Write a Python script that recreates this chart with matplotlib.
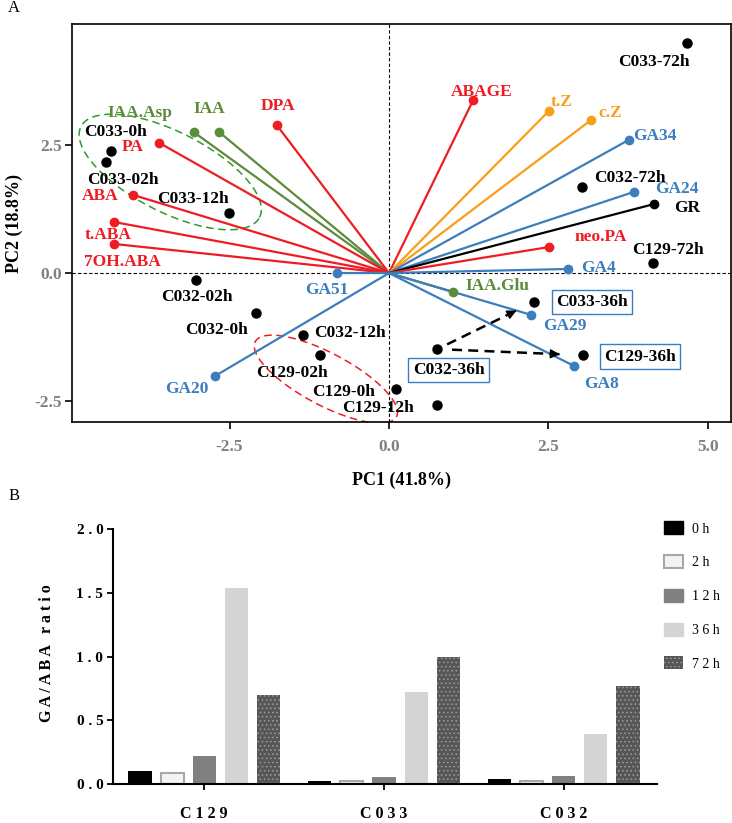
import numpy as np
import matplotlib.pyplot as plt
from matplotlib.patches import Patch

plt.rcParams.update({'font.family': ['Liberation Serif', 'DejaVu Serif'], 'font.weight': 'bold'})

# ---- panel A: PCA biplot ----
load_names = ['IAA.Asp', 'IAA', 'DPA', 'PA', 'ABA', 't.ABA', '7OH.ABA', 'GA51', 'GA20',
              'ABAGE', 't.Z', 'c.Z', 'GA34', 'GA24', 'GR', 'neo.PA', 'GA4', 'IAA.Glu', 'GA29', 'GA8']
load_x = [-3.06, -2.66, -1.76, -3.60, -4.01, -4.31, -4.31, -0.82, -2.73,
          1.32, 2.51, 3.17, 3.76, 3.84, 4.15, 2.51, 2.81, 1.00, 2.23, 2.90]
load_y = [2.76, 2.76, 2.90, 2.55, 1.53, 1.00, 0.57, 0.00, -2.02,
          3.39, 3.18, 3.00, 2.61, 1.59, 1.35, 0.51, 0.08, -0.37, -0.82, -1.82]
load_group = ['auxin', 'auxin', 'aba', 'aba', 'aba', 'aba', 'aba', 'ga', 'ga',
              'aba', 'ck', 'ck', 'ga', 'ga', 'gr', 'aba', 'ga', 'auxin', 'ga', 'ga']

score_names = ['C033-72h', 'C032-72h', 'C129-72h', 'C033-0h', 'C033-02h', 'C033-12h',
               'C032-02h', 'C032-0h', 'C032-12h', 'C129-02h', 'C129-0h', 'C129-12h',
               'C032-36h', 'C033-36h', 'C129-36h']
score_x = [4.67, 3.03, 4.14, -4.36, -4.44, -2.51, -3.03, -2.08, -1.35, -1.08, 0.11, 0.76,
           0.76, 2.27, 3.04]
score_y = [4.51, 1.69, 0.20, 2.39, 2.18, 1.18, -0.14, -0.79, -1.22, -1.61, -2.27, -2.59,
           -1.49, -0.57, -1.61]

group_colors = {'aba': '#ee1d23', 'auxin': '#5b8c3a', 'ga': '#3b7dbd',
                'ck': '#f6a01a', 'gr': 'black'}

# label offsets in points (dx, dy)
load_off = {'IAA.Asp': (-39, 14), 'IAA': (-7, 17), 'DPA': (1, 14), 'PA': (-19, -3),
            'ABA': (-24, -1), 't.ABA': (-4, -9), '7OH.ABA': (6, -13), 'GA51': (-7, -12),
            'GA20': (-20, -9), 'ABAGE': (6, 6), 't.Z': (9, 6), 'c.Z': (14, 5),
            'GA34': (19, 3), 'GA24': (31, 2), 'GR': (24, -3), 'neo.PA': (37, 7),
            'GA4': (22, 1), 'IAA.Glu': (32, 4), 'GA29': (24, -8), 'GA8': (20, -13)}
score_off = {'C033-72h': (-24, -14), 'C032-72h': (34, 6), 'C129-72h': (11, 9),
             'C033-0h': (3, 14), 'C033-02h': (12, -13), 'C033-12h': (-26, 10),
             'C032-02h': (1, -12), 'C032-0h': (-29, -12), 'C032-12h': (34, 2),
             'C129-02h': (-20, -13), 'C129-0h': (-38, -2), 'C129-12h': (-43, -2),
             'C032-36h': (8, -15), 'C033-36h': (42, 0), 'C129-36h': (41, -1)}
boxed = ['C032-36h', 'C033-36h', 'C129-36h']

# ---- panel B: GA/ABA ratio ----
lines_b = ['C129', 'C033', 'C032']
hours = ['0h', '2h', '12h', '36h', '72h']
ratio = {'0h': [0.10, 0.025, 0.04],
         '2h': [0.085, 0.02, 0.02],
         '12h': [0.22, 0.055, 0.06],
         '36h': [1.54, 0.72, 0.39],
         '72h': [0.70, 1.00, 0.77]}

fig = plt.figure(figsize=(7.32, 8.23), dpi=100)

ax = fig.add_axes([0.0984, 0.4872, 0.900, 0.4836])
ax.set_xlim(-4.97, 5.36)
ax.set_ylim(-2.92, 4.88)
ax.axhline(0, color='black', lw=0.8, ls=(0, (3, 2)), zorder=1)
ax.axvline(0, color='black', lw=0.8, ls=(0, (3, 2)), zorder=1)

for name, x, y, g in zip(load_names, load_x, load_y, load_group):
    c = group_colors[g]
    ax.plot([0, x], [0, y], color=c, lw=1.6, zorder=2)
    ax.plot(x, y, 'o', color=c, ms=6, zorder=3)
    ax.annotate(name, (x, y), xytext=load_off[name], textcoords='offset points',
                ha='center', va='center', color=c, fontsize=12.5, fontweight='bold')

ax.plot(score_x, score_y, 'o', color='black', ms=6.5, zorder=4)
for name, x, y in zip(score_names, score_x, score_y):
    bb = None
    if name in boxed:
        bb = dict(boxstyle='square,pad=0.25', fc='white', ec='#3b7dbd', lw=1.0)
    ax.annotate(name, (x, y), xytext=score_off[name], textcoords='offset points',
                ha='center', va='center', color='black', fontsize=12.5,
                fontweight='bold', bbox=bb, zorder=5)

# dashed arrows from C032-36h
i0 = score_names.index('C032-36h')
x0, y0 = score_x[i0], score_y[i0]
for target, frac in [('C033-36h', 0.82), ('C129-36h', 0.86)]:
    j = score_names.index(target)
    xe = x0 + (score_x[j] - x0) * frac
    ye = y0 + (score_y[j] - y0) * frac
    xs = x0 + (score_x[j] - x0) * 0.1
    ys = y0 + (score_y[j] - y0) * 0.1
    ax.plot([xs, xe], [ys, ye], color='black', lw=1.8, ls=(0, (4, 2.5)), zorder=3)
    ax.annotate('', xy=(xe, ye), xytext=(xe - (xe - x0) * 0.05, ye - (ye - y0) * 0.05),
                arrowprops=dict(arrowstyle='-|>', color='black', lw=1.0,
                                mutation_scale=14), zorder=3)

# group ellipses
t = np.linspace(0, 2 * np.pi, 200)
for cx, cy, u, v, col in [(-3.43, 1.98, (1.40, -0.89), (0.285, 0.70), '#2e9a2e'),
                          (-0.99, -2.08, (1.107, -0.736), (0.191, 0.450), '#ee1d23')]:
    ex = cx + np.cos(t) * u[0] + np.sin(t) * v[0]
    ey = cy + np.cos(t) * u[1] + np.sin(t) * v[1]
    ax.plot(ex, ey, color=col, lw=1.1, ls=(0, (5, 3)), zorder=1)

ax.set_xticks([-2.5, 0.0, 2.5, 5.0])
ax.set_yticks([-2.5, 0.0, 2.5])
ax.set_xticklabels(['-2.5', '0.0', '2.5', '5.0'])
ax.set_yticklabels(['-2.5', '0.0', '2.5'])
ax.tick_params(direction='out', length=5, width=1.2, labelsize=12.5, labelcolor='#808080')
ax.tick_params(axis='x', pad=7)
ax.tick_params(axis='y', pad=2)
for s in ax.spines.values():
    s.set_linewidth(1.2)
ax.text(0.5, -0.146, 'PC1 (41.8%)', transform=ax.transAxes, ha='center', va='center',
        fontsize=13, fontweight='bold')
ax.text(-0.088, 0.5, 'PC2 (18.8%)', transform=ax.transAxes, ha='center', va='center',
        rotation=90, fontsize=13, fontweight='bold')

fig.text(0.011, 0.990, 'A', ha='left', va='center', fontsize=12, fontweight='normal')
fig.text(0.011, 0.397, 'B', ha='left', va='center', fontsize=12, fontweight='normal')

# ---- panel B ----
axb = fig.add_axes([0.1544, 0.0474, 0.7431, 0.3098])
styles = {'0h': dict(color='black'),
          '2h': dict(facecolor='#f3f3f3', edgecolor='#a8a8a8', linewidth=1.5),
          '12h': dict(color='#808080'),
          '36h': dict(color='#d4d4d4'),
          '72h': dict(facecolor='#575757', edgecolor='#9c9c9c', linewidth=0, hatch='....')}
plt.rcParams['hatch.linewidth'] = 0.6
xpos = np.arange(len(lines_b))
step = 0.178
width = 0.128
for k, h in enumerate(hours):
    axb.bar(xpos + (k - 2) * step, ratio[h], width=width, label=h, **styles[h])

axb.set_xlim(-0.506, 2.517)
axb.set_ylim(0, 2.0)
axb.set_yticks([0, 0.5, 1.0, 1.5, 2.0])
axb.set_yticklabels(['0 . 0', '0 . 5', '1 . 0', '1 . 5', '2 . 0'])
axb.set_xticks(xpos)
axb.set_xticklabels([' '.join(n) for n in lines_b])
axb.spines['top'].set_visible(False)
axb.spines['right'].set_visible(False)
axb.spines['left'].set_linewidth(1.5)
axb.spines['bottom'].set_linewidth(1.5)
axb.tick_params(axis='y', direction='out', length=4, width=1.3, labelsize=11, pad=3)
axb.tick_params(axis='x', direction='out', length=4, width=1.3, labelsize=11.5, pad=12)
for lab in axb.get_xticklabels() + axb.get_yticklabels():
    lab.set_fontweight('bold')
axb.text(-0.121, 0.514, 'G A / A B A   r a t i o', transform=axb.transAxes, ha='center',
         va='center', rotation=90, fontsize=11.5, fontweight='bold')

handles = [Patch(label=' '.join(h), **styles[h]) for h in hours]
fig.legend(handles=handles, loc='upper left', bbox_to_anchor=(0.897, 0.375), frameon=False,
           handlelength=1.37, handleheight=1.08, labelspacing=1.4, handletextpad=0.65,
           borderpad=0, prop={'size': 10, 'weight': 'normal'})

fig.savefig('out.png', dpi=100)
